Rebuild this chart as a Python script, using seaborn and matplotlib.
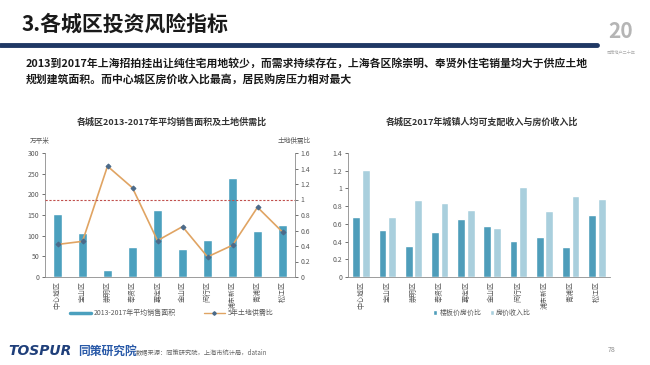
import matplotlib
matplotlib.use("Agg")
import matplotlib.pyplot as plt
import seaborn as sns
import pandas as pd
import numpy as np

sns.set_theme(style="white")
plt.rcParams['font.family'] = ['Noto Sans CJK SC', 'DejaVu Sans']
plt.rcParams['axes.unicode_minus'] = False

districts = ["中心城区", "宝山区", "崇明区", "奉贤区", "嘉定区", "金山区", "闵行区", "浦东新区", "青浦区", "松江区"]
sales_area = [153, 107, 17, 72, 163, 68, 90, 240, 112, 125]
supply_ratio = [0.42, 0.46, 1.43, 1.15, 0.47, 0.65, 0.26, 0.41, 0.90, 0.58]
land_price_ratio = [0.68, 0.53, 0.35, 0.51, 0.66, 0.58, 0.41, 0.45, 0.34, 0.70]
price_income_ratio = [1.21, 0.68, 0.87, 0.84, 0.76, 0.55, 1.02, 0.75, 0.92, 0.88]

left_ticks = [0, 50, 100, 150, 200, 250, 300]
right_ticks = [0, 0.2, 0.4, 0.6, 0.8, 1, 1.2, 1.4, 1.6]
right_tick_labels = ["0", "0.2", "0.4", "0.6", "0.8", "1", "1.2", "1.4", "1.6"]
r2_ticks = [0, 0.2, 0.4, 0.6, 0.8, 1, 1.2, 1.4]
r2_tick_labels = ["0", "0.2", "0.4", "0.6", "0.8", "1", "1.2", "1.4"]

W, H = 650, 365
fig = plt.figure(figsize=(W / 100, H / 100), dpi=100)
fig.patch.set_facecolor("white")

def ax_px(x0, y_top, x1, y_bot):
    return fig.add_axes([x0 / W, 1 - y_bot / H, (x1 - x0) / W, (y_bot - y_top) / H])

tick_color = "#595959"
spine_color = "#8c8c8c"

# ---------- header ----------
fig.text(22 / W, 1 - 24 / H, "3.各城区投资风险指标", fontsize=15, fontweight="bold",
         color="#1a1a1a", va="center", ha="left")
fig.add_artist(plt.Line2D([0, 597 / W], [1 - 45 / H, 1 - 45 / H], color="#1f3864", lw=3.5))
fig.text(26 / W, 1 - 63 / H, "2013到2017年上海招拍挂出让纯住宅用地较少，而需求持续存在，上海各区除崇明、奉贤外住宅销量均大于供应土地",
         fontsize=7.8, fontweight="bold", color="#1a1a1a", va="center", ha="left")
fig.text(26 / W, 1 - 79 / H, "规划建筑面积。而中心城区房价收入比最高，居民购房压力相对最大",
         fontsize=7.8, fontweight="bold", color="#1a1a1a", va="center", ha="left")
fig.text(621 / W, 1 - 32 / H, "20", fontsize=15, fontweight="bold", color="#b5b5b5",
         va="center", ha="center", style="italic")
fig.text(621 / W, 1 - 52 / H, "同策地产二十年", fontsize=3, color="#b0b0b0", va="center", ha="center")

# ---------- left chart ----------
ax1 = ax_px(45, 153, 295, 277)
df1 = pd.DataFrame({"区": districts, "面积": sales_area, "比": supply_ratio})
sns.barplot(data=df1, x="区", y="面积", color="#4BA0BE", width=0.34, ax=ax1,
            saturation=1, label="2013-2017年平均销售面积", legend=False)
ax1.set_ylim(0, 300)
ax1.set_yticks(left_ticks)
ax1.set_yticklabels([str(t) for t in left_ticks])
ax1.set_xlabel("")
ax1.set_ylabel("")
ax1.set_xlim(-0.5, 9.5)
ax1.tick_params(axis="y", labelsize=5, colors=tick_color, length=2, width=0.6, pad=2, left=True)
ax1.tick_params(axis="x", labelsize=5, colors=tick_color, length=0, pad=3)
ax1.set_xticks(range(len(districts)))
ax1.set_xticklabels(districts, rotation=90)
for s in ["top", "right"]:
    ax1.spines[s].set_visible(False)
ax1.spines["left"].set_color(spine_color)
ax1.spines["bottom"].set_color(spine_color)
ax1.spines["left"].set_linewidth(0.6)
ax1.spines["bottom"].set_linewidth(0.6)

ax1b = ax1.twinx()
sns.lineplot(x=np.arange(len(districts)), y=df1["比"], ax=ax1b, color="#E0A463", lw=1.2,
             marker="D", markersize=2.5, markerfacecolor="#4a6a8a", markeredgecolor="#4a6a8a",
             label="5年土地供需比", legend=False)
ax1b.axhline(1.0, color="#C0504D", lw=0.8, ls=(0, (2, 1.5)))
ax1b.set_ylim(0, 1.6)
ax1b.set_yticks(right_ticks)
ax1b.set_yticklabels(right_tick_labels)
ax1b.set_ylabel("")
ax1b.set_xlim(-0.5, 9.5)
ax1b.tick_params(axis="y", labelsize=5, colors=tick_color, length=2, width=0.6, pad=2, right=True)
for s in ["top", "left", "bottom"]:
    ax1b.spines[s].set_visible(False)
ax1b.spines["right"].set_color(spine_color)
ax1b.spines["right"].set_linewidth(0.6)

fig.text(172 / W, 1 - 122 / H, "各城区2013-2017年平均销售面积及土地供需比", fontsize=6.5,
         fontweight="bold", color="#333333", ha="center", va="center")
fig.text(30 / W, 1 - 141 / H, "万平米", fontsize=4.8, color=tick_color, ha="left", va="center")
fig.text(311 / W, 1 - 141 / H, "土地供需比", fontsize=4.8, color=tick_color, ha="right", va="center")

h1 = [plt.Line2D([], [], color="#4BA0BE", lw=2.5)]
h2 = [plt.Line2D([], [], color="#E0A463", lw=1.0, marker="D", markersize=1.8,
                 markerfacecolor="#4a6a8a", markeredgecolor="#4a6a8a")]
fig.legend(h1 + h2, ["2013-2017年平均销售面积", "5年土地供需比"], loc="center",
           bbox_to_anchor=(172 / W, 1 - 313 / H), ncol=2,
           frameon=False, fontsize=5, handlelength=3, columnspacing=4, handletextpad=0.4,
           labelcolor=tick_color)

# ---------- right chart ----------
ax2 = ax_px(348, 153, 610, 277)
df2 = pd.DataFrame({
    "区": districts * 2,
    "值": land_price_ratio + price_income_ratio,
    "系列": ["楼板价房价比"] * 10 + ["房价收入比"] * 10,
})
sns.barplot(data=df2, x="区", y="值", hue="系列", palette=["#4E9DBA", "#A9CFDD"],
            width=0.74, gap=0.2, ax=ax2, saturation=1)
ax2.set_ylim(0, 1.4)
ax2.set_yticks(r2_ticks)
ax2.set_yticklabels(r2_tick_labels)
ax2.set_xlim(-0.5, 9.5)
ax2.set_xlabel("")
ax2.set_ylabel("")
ax2.set_xticks(range(len(districts)))
ax2.set_xticklabels(districts, rotation=90)
ax2.tick_params(axis="y", labelsize=5, colors=tick_color, length=2, width=0.6, pad=2, left=True)
ax2.tick_params(axis="x", labelsize=5, colors=tick_color, length=0, pad=3)
for s in ["top", "right"]:
    ax2.spines[s].set_visible(False)
ax2.spines["left"].set_color(spine_color)
ax2.spines["bottom"].set_color(spine_color)
ax2.spines["left"].set_linewidth(0.6)
ax2.spines["bottom"].set_linewidth(0.6)
leg = ax2.get_legend()
handles = leg.legend_handles
labels = [t.get_text() for t in leg.get_texts()]
leg.remove()
fig.legend(handles, labels, loc="center", bbox_to_anchor=(482 / W, 1 - 313 / H), ncol=2,
           frameon=False, fontsize=5, handlelength=0.6, handleheight=0.6, columnspacing=1.2,
           handletextpad=0.3, labelcolor=tick_color)
fig.text(482 / W, 1 - 122 / H, "各城区2017年城镇人均可支配收入与房价收入比", fontsize=6.5,
         fontweight="bold", color="#333333", ha="center", va="center")

# ---------- footer ----------
fig.text(8 / W, 1 - 351 / H, "TOSPUR", fontsize=10, fontweight="bold", style="italic",
         color="#1f3f7a", ha="left", va="center", family=["DejaVu Sans"])
fig.text(78 / W, 1 - 351 / H, "同策研究院", fontsize=8.5, fontweight="bold", style="italic",
         color="#2a5aa8", ha="left", va="center")
fig.text(136 / W, 1 - 352 / H, "数据来源：同策研究院，上海市统计局，datain", fontsize=4.5,
         color="#666666", ha="left", va="center")
fig.text(612 / W, 1 - 350 / H, "78", fontsize=5, color="#888888", ha="center", va="center")

fig.savefig("out.png", dpi=100, facecolor="white")
